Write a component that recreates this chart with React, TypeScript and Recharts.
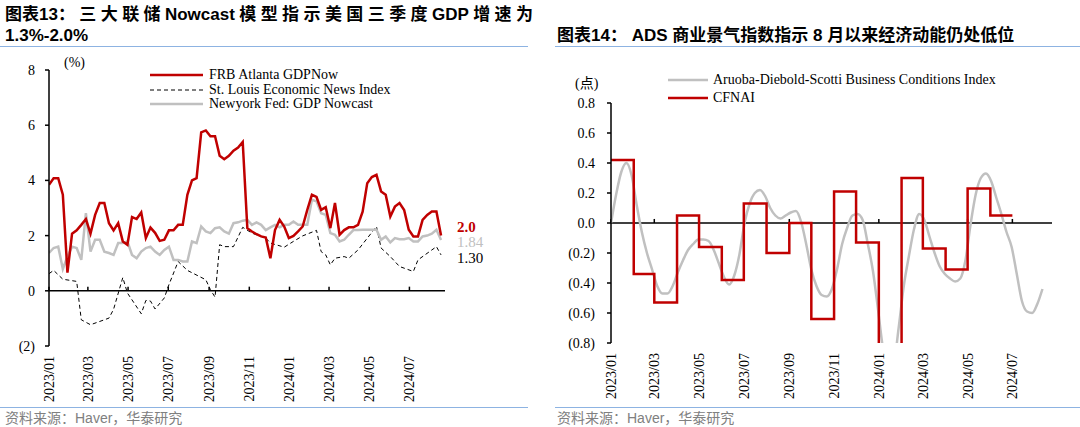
import { LineChart, Line, XAxis, YAxis, ReferenceLine } from "recharts"

const SERIF = '"Liberation Serif", "Times New Roman", "Noto Sans CJK SC", serif'
const SANS = '"Liberation Sans", Arial, "Noto Sans CJK SC", sans-serif'

// weekly observations, first one on 2023/01/01
const START = Date.UTC(2023, 0, 1)
const WEEK = 7 * 24 * 3600 * 1000
const END = Date.UTC(2024, 7, 24)

const tickLabels = ["2023/01", "2023/03", "2023/05", "2023/07", "2023/09", "2023/11", "2024/01", "2024/03", "2024/05", "2024/07"]

// 图表13 (%)
const atlantaNow = [
  3.84, 4.08, 4.08, 3.48, 0.66, 2.07, 2.19, 2.39, 2.6, 2.07,
  2.75, 3.18, 3.18, 2.45, 2.19, 2.45, 1.79, 1.67, 2.67, 2.6,
  2.84, 1.91, 2.29, 2.1, 1.81, 1.85, 2.19, 2.19, 2.39, 2.39,
  3.48, 4.0, 4.08, 5.74, 5.81, 5.6, 5.6, 4.89, 4.77, 4.89,
  5.08, 5.19, 5.39, 2.27, 2.15, 2.05, 1.97, 1.93, 1.18, 2.2,
  2.57, 2.33, 1.91, 1.99, 2.15, 2.33, 2.93, 3.48, 3.4, 2.93,
  3.03, 2.27, 3.18, 2.03, 2.2, 2.3, 2.3, 2.39, 2.87, 3.9,
  4.12, 4.2, 3.6, 3.48, 2.69, 3.05, 3.18, 2.93, 2.21, 1.97,
  1.97, 2.57, 2.75, 2.87, 2.87, 2.0,
]
const stLouisNews = [
  0.62, 0.74, null, 0.42, null, null, 0.34, -1.05, null, -1.23,
  null, null, null, -0.99, -0.67, null, 0.48, -0.08, null, null,
  -0.83, -0.35, -0.37, -0.66, null, -0.26, 0.22, null, 1.06, null,
  0.74, null, null, null, 0.4, 0.04, -0.23, 1.67, 1.6, null,
  1.6, null, 2.3, null, 2.09, null, null, 1.91, 1.73, null,
  null, 1.58, null, 1.79, null, 1.99, null, null, 2.19, 1.42,
  1.3, 0.94, 1.18, null, 1.24, 1.18, null, 1.48, null, null,
  null, 2.33, 1.55, null, 1.24, null, 0.88, null, null, 0.7,
  1.12, null, null, null, 1.6, 1.3,
]
const nyFedNowcast = [
  1.37, 1.55, 1.6, 0.79, 1.24, 1.6, 1.55, 1.12, 2.81, 1.42,
  1.85, 1.85, 1.42, 1.37, 1.3, 1.73, 1.73, 1.79, 1.3, 1.18,
  1.42, 1.55, 1.6, 1.42, 1.3, 1.48, 1.6, 1.12, 1.12, 1.06,
  1.06, 1.79, 1.73, 2.33, 2.15, 2.09, 2.27, 2.3, 2.15, 2.07,
  2.45, 2.48, 2.54, 2.57, 2.39, 2.48, 2.39, 2.2, 2.3, 2.39,
  2.3, 2.39, 2.39, 2.51, 2.39, 2.39, 2.39, 3.3, 3.24, 2.81,
  2.75, 2.09, 2.03, 1.79, 1.85, 2.03, 2.2, 2.2, 2.21, 2.21,
  2.21, 2.21, 1.85, 1.97, 1.75, 1.91, 1.87, 1.87, 1.91, 1.79,
  1.79, 1.97, 2.0, 2.07, 2.21, 1.84,
]

// 图表14 (点)
const adsIndex = [
  0.0, 0.19, 0.34, 0.4, 0.32, 0.12, -0.06, -0.2, -0.31, -0.42,
  -0.47, -0.47, -0.42, -0.33, -0.25, -0.18, -0.14, -0.11, -0.11, -0.12,
  -0.18, -0.27, -0.36, -0.41, -0.35, -0.21, 0.0, 0.13, 0.2, 0.22,
  0.18, 0.1, 0.05, 0.03, 0.05, 0.07, 0.08, 0.01, -0.14, -0.31,
  -0.42, -0.48, -0.49, -0.44, -0.31, -0.14, -0.03, 0.05, 0.06, 0.02,
  -0.14, -0.32, -0.58, -0.85, -1.0, -0.95, -0.7, -0.42, -0.22, -0.04,
  0.06, 0.02, -0.09, -0.2, -0.29, -0.34, -0.37, -0.39, -0.37, -0.25,
  -0.01, 0.19, 0.3, 0.33, 0.28, 0.17, 0.06, -0.06, -0.16, -0.34,
  -0.52, -0.59, -0.6, -0.54, -0.44,
]
const cfnaiMonths = [
  "2023/01", "2023/02", "2023/03", "2023/04", "2023/05", "2023/06", "2023/07", "2023/08", "2023/09",
  "2023/10", "2023/11", "2023/12", "2024/01", "2024/02", "2024/03", "2024/04", "2024/05", "2024/06",
]
const cfnaiValues = [0.42, -0.34, -0.53, 0.05, -0.16, -0.38, 0.13, -0.2, 0.0, -0.64, 0.21, -0.13, -1.0, 0.3, -0.17, -0.31, 0.23, 0.05]
const cfnaiPeriodEnd = "2024/07"

const toTime = (s: string) => {
  const [y, m] = s.split("/").map(Number)
  return Date.UTC(y, m - 1, 1)
}
const tickTimes = tickLabels.map(toTime)
const labelOf = (t: number) => tickLabels[tickTimes.indexOf(t)] ?? ""

const gdpRows = atlantaNow.map((v, i) => ({
  t: START + i * WEEK,
  atlanta: v,
  stLouis: stLouisNews[i],
  nyFed: nyFedNowcast[i],
}))
const adsRows = adsIndex.map((v, i) => ({ t: START + i * WEEK, ads: v }))
const cfnaiRows = [
  ...cfnaiMonths.map((m, i) => ({ t: toTime(m), cfnai: cfnaiValues[i] })),
  { t: toTime(cfnaiPeriodEnd), cfnai: cfnaiValues[cfnaiValues.length - 1] },
]

const RED = "#c00000"
const GREY = "#c0c0c0"

const RotatedTick = (props: any) => {
  const { x, y, payload } = props
  return (
    <text x={x} y={y} dy="0.35em" transform={`rotate(-90 ${x} ${y})`} textAnchor="end" fontSize={14} fill="#000" fontFamily={SERIF}>
      {labelOf(payload.value)}
    </text>
  )
}

const endLabel = (digits: number, color: string, dy: number, bold = false) => (p: any) => {
  if (p.index !== atlantaNow.length - 1) return null
  return (
    <text key="end" x={p.x + 16} y={p.y + dy} dy="0.35em" fill={color} fontSize={15} fontWeight={bold ? 700 : 400} fontFamily={SERIF}>
      {Number(p.value).toFixed(digits)}
    </text>
  )
}

const paren = (v: number, digits: number) => (v < 0 ? `(${Math.abs(v).toFixed(digits)})` : Math.abs(v).toFixed(digits))

const LegendRow = ({ color, width, dash, strokeWidth, label, height, gap }: any) => (
  <div style={{ display: "flex", alignItems: "center", height }}>
    <svg width={width} height={6} style={{ flex: "none" }}>
      <line x1={0} y1={3} x2={width} y2={3} stroke={color} strokeWidth={strokeWidth} strokeDasharray={dash} />
    </svg>
    <span style={{ marginLeft: gap, whiteSpace: "nowrap" }}>{label}</span>
  </div>
)

const titleTokens = ["图表13：", "三", "大", "联", "储", "Nowcast", "模", "型", "指", "示", "美", "国", "三", "季", "度", "GDP", "增", "速", "为"]

export default function App() {
  const abs = (o: any) => ({ position: "absolute" as const, ...o })
  return (
    <div style={{ position: "absolute", left: 0, top: 0, width: 1080, height: 427, background: "#fff", overflow: "hidden" }}>
      {/* titles */}
      <div style={abs({ left: 5, top: 4, width: 528, display: "flex", justifyContent: "space-between", fontFamily: SANS, fontSize: 17, fontWeight: 700, lineHeight: "22px" })}>
        {titleTokens.map((t, i) => (
          <span key={i}>{t}</span>
        ))}
      </div>
      <div style={abs({ left: 5, top: 25, fontFamily: SANS, fontSize: 17, fontWeight: 700, lineHeight: "22px" })}>1.3%-2.0%</div>
      <div style={abs({ left: 557, top: 25, fontFamily: SANS, fontSize: 17, fontWeight: 700, lineHeight: "22px", whiteSpace: "nowrap" })}>
        图表14：&nbsp;ADS 商业景气指数指示 8 月以来经济动能仍处低位
      </div>
      <div style={abs({ left: 0, top: 46, width: 528, height: 0, borderTop: "1.5px solid #8db3e2" })} />
      <div style={abs({ left: 555, top: 46, width: 525, height: 0, borderTop: "1.5px solid #8db3e2" })} />

      {/* left chart */}
      <div style={abs({ left: 0, top: 0 })}>
        <LineChart width={540} height={427} margin={{ top: 70, right: 95, bottom: 0, left: 0 }}>
          <XAxis dataKey="t" type="number" domain={[START, END]} ticks={tickTimes} allowDataOverflow axisLine={false} tickLine={false} tickSize={0} tickMargin={10} height={81} tick={<RotatedTick />} interval={0} />
          <YAxis type="number" domain={[-2, 8]} ticks={[-2, 0, 2, 4, 6, 8]} allowDataOverflow width={49} tickSize={4} tickMargin={10}
            axisLine={{ stroke: "#000", strokeWidth: 1.5 }} tickLine={{ stroke: "#000", strokeWidth: 1.5 }}
            tick={{ fill: "#000", fontSize: 14, fontFamily: SERIF }} tickFormatter={(v: number) => paren(v, 0)} />
          <ReferenceLine y={0} stroke="#000" strokeWidth={1.5} />
          {tickTimes.map((t) => (
            <ReferenceLine key={t} segment={[{ x: t, y: 0 }, { x: t, y: 0.15 }]} stroke="#000" strokeWidth={1.5} />
          ))}
          <Line data={gdpRows} dataKey="stLouis" type="linear" stroke="#000" strokeWidth={1} strokeDasharray="4 3" dot={false} activeDot={false} connectNulls isAnimationActive={false} label={endLabel(2, "#000", 3)} />
          <Line data={gdpRows} dataKey="nyFed" type="linear" stroke={GREY} strokeWidth={2.5} dot={false} activeDot={false} isAnimationActive={false} label={endLabel(2, GREY, 2)} />
          <Line data={gdpRows} dataKey="atlanta" type="linear" stroke={RED} strokeWidth={2.5} dot={false} activeDot={false} isAnimationActive={false} label={endLabel(1, RED, -9, true)} />
        </LineChart>
      </div>

      {/* right chart */}
      <div style={abs({ left: 540, top: 0 })}>
        <LineChart width={540} height={427} margin={{ top: 103, right: 28, bottom: 0, left: 0 }}>
          <XAxis dataKey="t" type="number" domain={[START, END]} ticks={tickTimes} allowDataOverflow axisLine={false} tickLine={false} tickSize={0} tickMargin={10} height={84} tick={<RotatedTick />} interval={0} />
          <YAxis type="number" domain={[-0.8, 0.8]} ticks={[-0.8, -0.6, -0.4, -0.2, 0, 0.2, 0.4, 0.6, 0.8]} allowDataOverflow width={71} tickSize={4} tickMargin={12}
            axisLine={{ stroke: "#000", strokeWidth: 1.5 }} tickLine={{ stroke: "#000", strokeWidth: 1.5 }}
            tick={{ fill: "#000", fontSize: 14, fontFamily: SERIF }} tickFormatter={(v: number) => paren(v, 1)} />
          <ReferenceLine y={0} stroke="#000" strokeWidth={1.5} />
          {tickTimes.map((t) => (
            <ReferenceLine key={t} segment={[{ x: t, y: 0 }, { x: t, y: 0.027 }]} stroke="#000" strokeWidth={1.5} />
          ))}
          <Line data={adsRows} dataKey="ads" type="monotone" stroke={GREY} strokeWidth={2.5} dot={false} activeDot={false} isAnimationActive={false} />
          <Line data={cfnaiRows} dataKey="cfnai" type="stepAfter" stroke={RED} strokeWidth={2.5} dot={false} activeDot={false} isAnimationActive={false} />
        </LineChart>
      </div>

      {/* units and legends */}
      <div style={abs({ left: 64, top: 55, fontFamily: SERIF, fontSize: 14 })}>(%)</div>
      <div style={abs({ left: 575, top: 72, fontFamily: SERIF, fontSize: 14 })}>(点)</div>
      <div style={abs({ left: 150, top: 68, fontFamily: SERIF, fontSize: 14, color: "#000" })}>
        <LegendRow color={RED} width={53} strokeWidth={2.5} label="FRB Atlanta GDPNow" height={14.5} gap={6} />
        <LegendRow color="#000" width={53} strokeWidth={1} dash="4 3" label="St. Louis Economic News Index" height={14.5} gap={6} />
        <LegendRow color={GREY} width={53} strokeWidth={2.5} label="Newyork Fed: GDP Nowcast" height={14.5} gap={6} />
      </div>
      <div style={abs({ left: 668, top: 71, fontFamily: SERIF, fontSize: 14, color: "#000" })}>
        <LegendRow color={GREY} width={40} strokeWidth={2.5} label="Aruoba-Diebold-Scotti Business Conditions Index" height={18} gap={5} />
        <LegendRow color={RED} width={40} strokeWidth={2.5} label="CFNAI" height={18} gap={5} />
      </div>

      {/* footers */}
      <div style={abs({ left: 0, top: 407, width: 528, height: 0, borderTop: "1.5px solid #8db3e2" })} />
      <div style={abs({ left: 555, top: 407, width: 525, height: 0, borderTop: "1.5px solid #8db3e2" })} />
      <div style={abs({ left: 5, top: 411, fontFamily: SANS, fontSize: 14, lineHeight: "15px", color: "#808080" })}>资料来源：Haver，华泰研究</div>
      <div style={abs({ left: 557, top: 411, fontFamily: SANS, fontSize: 14, lineHeight: "15px", color: "#808080" })}>资料来源：Haver，华泰研究</div>
    </div>
  )
}
